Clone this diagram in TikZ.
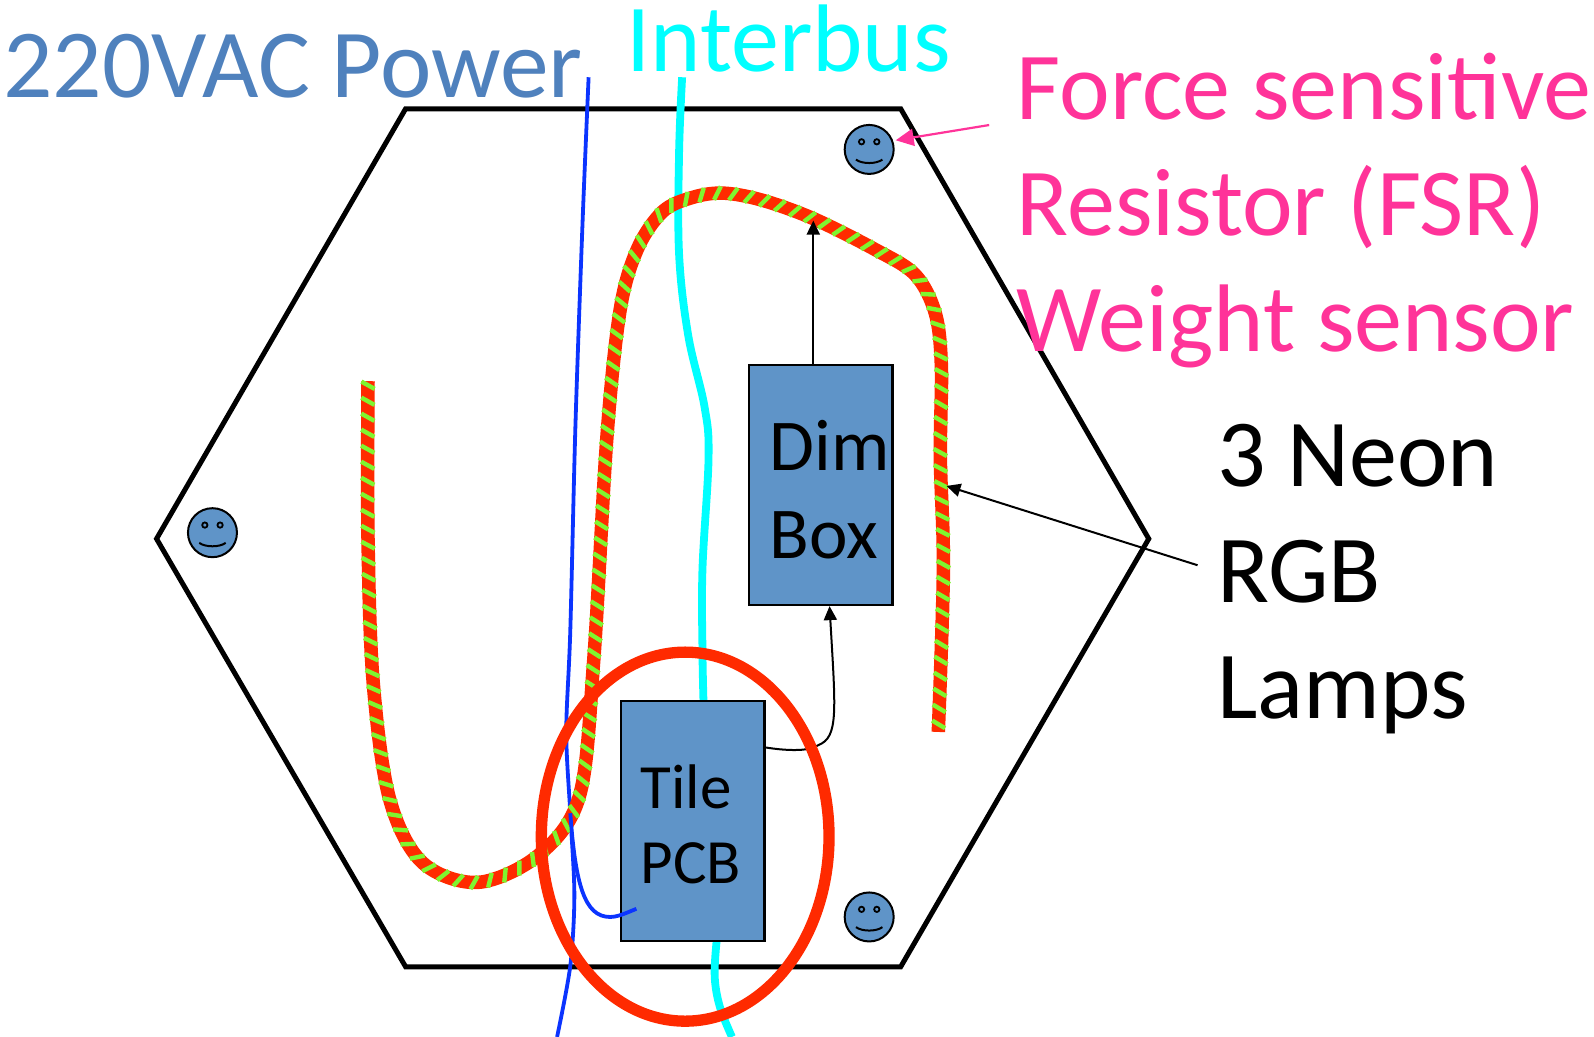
\documentclass[tikz,border=0pt]{standalone}
\usepackage{fontspec}
\setmainfont{Carlito}
\usetikzlibrary{arrows.meta,decorations.markings}
\pgfdeclarelayer{under}
\pgfsetlayers{under,main}
\definecolor{boxblue}{HTML}{5F94C8}
\definecolor{titleblue}{HTML}{4F81BD}
\definecolor{wireblue}{HTML}{0B34FF}
\definecolor{buscyan}{HTML}{00FFFF}
\definecolor{hotpink}{HTML}{FF3399}
\definecolor{lampred}{HTML}{FF2A00}
\definecolor{lampgreen}{HTML}{7FF52F}
\tikzset{
  x=1.01658pt,y=-1.01658pt,
  hexline/.style={draw=black,line width=5pt,line join=miter},
  power/.style={draw=wireblue,line width=3.8pt},
  busline/.style={draw=buscyan,line width=7.8pt},
  lampbase/.style={draw=lampred,line width=13.5pt},
  lampstripes/.style={postaction={decorate,decoration={markings,
     mark=between positions 4pt and 1 step 16pt with {\draw[lampgreen,line width=4.4pt] (-3.6pt,-6.6pt)--(3.6pt,6.6pt);}}}},
  unitbox/.style={draw=black,line width=2.4pt,fill=boxblue,minimum width=143.5pt,inner sep=0pt,align=center},
  thinwire/.style={draw=black,line width=2pt},
  thinarrow/.style={thinwire,-{Triangle[length=14pt,width=13pt]}},
  label/.style={inner sep=0pt,anchor=north west,align=left,font=\fontsize{96}{116}\selectfont},
  face/.style={circle,draw=black,line width=2pt,fill=boxblue,minimum size=49pt,inner sep=0pt},
  ringmark/.style={draw=lampred,line width=11.3pt},
}
\newcommand{\smiley}[1]{%
  \node[face] (#1) at (#1c) {};
  \draw[black,line width=1.8pt] ([shift={(-7.5,-7.5)}]#1.center) circle (2.6);
  \draw[black,line width=1.8pt] ([shift={(7.5,-7.5)}]#1.center) circle (2.6);
  \draw[black,line width=2pt] ([shift={(-13,10)}]#1.center) .. controls +(6,4.5) and +(-6,4.5) .. +(26,0);
}
\begin{document}
\begin{tikzpicture}
\useasboundingbox (0,0) rectangle (1568,1020);
\coordinate (s1c) at (855,147);
\coordinate (s2c) at (209,524);
\coordinate (s3c) at (855,902);
% boxes
\node[unitbox,minimum height=240pt] (dim) at (807.5,477) {};
\node[unitbox,minimum height=240pt] (tile) at (681.5,807.5) {};
\node[inner sep=0pt,align=left,anchor=north west,font=\fontsize{73}{88}\selectfont] (dimtext) at (757,413) {Dim\\Box};
\node[inner sep=0pt,align=left,anchor=north west,font=\fontsize{63}{75}\selectfont] (tiletext) at (630,752) {Tile\\PCB};
\begin{pgfonlayer}{under}
\draw[hexline] (399,107) -- (886,107) -- (1130,530) -- (886,951) -- (399,951) -- (154,530) -- cycle;
\draw[busline] plot[smooth,tension=0.6] coordinates {(671,76) (668,150) (668,250) (677,330) (693,400) (697,450) (691,560) (691,640) (692,690)};
\draw[busline] plot[smooth,tension=0.6] coordinates {(705,925) (703,960) (708,990) (720,1020)};
\draw[power] plot[smooth,tension=0.5] coordinates {(579,76) (573,220) (566,420) (561,620) (557,720) (561,800) (565,880) (561,950) (548,1020)};
\coordinate (lamptop) at (800,217);
\draw[lampbase,lampstripes] plot[smooth,tension=0.55] coordinates {(362,375) (362,530) (367,670) (383,785) (415,848) (470,868) (530,841) (570,783) (584,650) (597,430) (610,305) (627,245) (652,208) (682,194) (712,190) (750,197) (800,215) (860,245) (900,270) (920,308) (926,360) (925,450) (928,560) (923,720)};
\draw[thinarrow] (800,359) -- (lamptop);
\draw[thinarrow] ([shift={(0,47)}]tile.north east) .. controls (770,738) and (795,740) .. (805,733) .. controls (825,725) and (822,700) .. ([shift={(8.5,0)}]dim.south);
\draw[ringmark] (674,823) ellipse (141.5 and 181.5);
\end{pgfonlayer}
% branch into tile
\coordinate (pcbin) at (626,894);
\coordinate (branch) at (561,800);
\draw[power] (branch) .. controls (566,870) and (575,902) .. (600,902) .. controls (608,902) and (616,898) .. (pcbin);
% smileys
\smiley{s1}
\smiley{s2}
\smiley{s3}
% labels
\node[label,text=titleblue,font=\fontsize{97.5}{116}\selectfont] (power) at (3,33) {220VAC Power};
\node[label,text=buscyan] (bus) at (616,5) {Interbus};
\node[label,text=hotpink] (fsr) at (1000,52) {Force sensitive\\Resistor (FSR)\\Weight sensor};
\node[label,text=black] (neon) at (1197,417) {3 Neon\\RGB\\Lamps};
\coordinate (fsrfrom) at (973,123);
\coordinate (lamppoint) at (931,478);
\coordinate (neonfrom) at (1178,556);
\draw[draw=hotpink,line width=2.2pt,-{Triangle[length=18pt,width=17pt]}] (fsrfrom) -- ([shift={(1,-9)}]s1.east);
\draw[thinarrow] (neonfrom) -- (lamppoint);
\end{tikzpicture}
\end{document}
